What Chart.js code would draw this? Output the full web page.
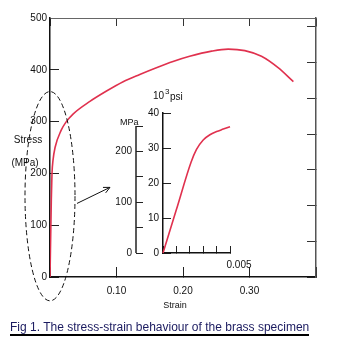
<!DOCTYPE html>
<html>
<head>
<meta charset="utf-8">
<script src="https://cdn.jsdelivr.net/npm/chart.js@4.4.0/dist/chart.umd.min.js"></script>
<style>
  html, body { margin: 0; padding: 0; background: #fff; }
  #wrap { position: relative; width: 360px; height: 341px; overflow: hidden; }
  #wrap canvas { position: absolute; left: 0; top: 0; }
  #caption {
    position: absolute; left: 10px; top: 320px;
    font: 12px "Liberation Sans", Arial, sans-serif; line-height: 14px;
    color: #1b1b60; border-bottom: 2px solid #000; white-space: nowrap;
  }
</style>
</head>
<body>
<div id="wrap">
  <canvas id="mainChart" width="360" height="341"></canvas>
  <canvas id="insetChart" width="360" height="341"></canvas>
  <div id="caption">Fig 1. The stress-strain behaviour of the brass specimen</div>
</div>
<script>
// full curve (strain, MPa)
const mainStrain = [0, 0.002, 0.003, 0.0045, 0.0076, 0.0167, 0.024, 0.035, 0.060, 0.085, 0.110, 0.135, 0.160, 0.185, 0.210, 0.243, 0.268, 0.293, 0.318, 0.343, 0.366];
const mainStress = [0, 150, 200, 225, 250, 283, 299, 315, 339, 359, 377, 391, 404, 416, 426, 436, 440, 437, 426, 404, 377];

// initial part, inset (strain, 10^3 psi)
const insetStrain = [0, 0.001, 0.0021, 0.0025, 0.003, 0.0035, 0.004, 0.0045, 0.005, 0.0056];
const insetKsi = [0, 12.4, 26, 29.6, 32.3, 33.8, 34.7, 35.4, 36.1, 36.9];

// ticks
const strainTicks = [0, 0.10, 0.20, 0.30, 0.40];
const strainLabels = ['', '0.10', '0.20', '0.30', ''];
const stressTicks = [0, 100, 200, 300, 400, 500];
const stressLabels = ['0', '100', '200', '300', '400', '500'];
const ksiTicksMain = [0, 10, 20, 30, 40, 50, 60, 70];
const insetStrainTicks = [0, 0.001, 0.002, 0.003, 0.004, 0.005];
const insetStrainLabels = ['', '', '', '', '', '0.005'];
const insetKsiTicks = [0, 10, 20, 30, 40];
const insetMpaTicks = [0, 50, 100, 150, 200, 250];
const insetMpaLabels = ['0', '', '100', '', '200', ''];

const MPA_PER_KSI = 6.894757;
const RED = '#e0314e';
const FONT = '"Liberation Sans", Arial, sans-serif';

Chart.defaults.font.family = FONT;
Chart.defaults.font.size = 10;
Chart.defaults.color = '#111';

function setTicks(values) {
    return function (scale) { scale.ticks = values.map(v => ({ value: v })); };
}
function pairs(xs, ys) {
    return xs.map((x, i) => ({ x: x, y: ys[i] }));
}

// dashed ellipse + arrow, in data units of the main chart
const ring = { x: 0, y: 156, rx: 0.0376, ry: 202 };
const arrow = { x1: 0.0406, y1: 142, x2: 0.0902, y2: 173 };

const mainExtras = {
    id: 'mainExtras',
    afterDraw(chart) {
        const ctx = chart.ctx;
        const xs = chart.scales.x, ys = chart.scales.y;
        ctx.save();
        ctx.fillStyle = '#111';
        ctx.font = '10px ' + FONT;
        ctx.textAlign = 'center';
        ctx.textBaseline = 'middle';
        ctx.fillText('Stress', 28, 140);
        ctx.fillText('(MPa)', 25, 163);
        ctx.font = '9px ' + FONT;
        ctx.fillText('Strain', 175, 306);

        // ellipse
        const cx = xs.getPixelForValue(ring.x), cy = ys.getPixelForValue(ring.y);
        const rx = xs.getPixelForValue(ring.rx) - xs.getPixelForValue(0);
        const ry = ys.getPixelForValue(0) - ys.getPixelForValue(ring.ry);
        ctx.strokeStyle = '#111';
        ctx.lineWidth = 1;
        ctx.setLineDash([5, 3]);
        ctx.beginPath();
        ctx.ellipse(cx, cy, rx, ry, 0, 0, Math.PI * 2);
        ctx.stroke();
        ctx.setLineDash([]);

        // arrow
        const ax1 = xs.getPixelForValue(arrow.x1), ay1 = ys.getPixelForValue(arrow.y1);
        const ax2 = xs.getPixelForValue(arrow.x2), ay2 = ys.getPixelForValue(arrow.y2);
        const ang = Math.atan2(ay2 - ay1, ax2 - ax1);
        ctx.beginPath();
        ctx.moveTo(ax1, ay1);
        ctx.lineTo(ax2, ay2);
        ctx.moveTo(ax2 - 7 * Math.cos(ang - 0.45), ay2 - 7 * Math.sin(ang - 0.45));
        ctx.lineTo(ax2, ay2);
        ctx.lineTo(ax2 - 7 * Math.cos(ang + 0.45), ay2 - 7 * Math.sin(ang + 0.45));
        ctx.stroke();
        ctx.restore();
    }
};

new Chart(document.getElementById('mainChart'), {
    type: 'line',
    data: {
        datasets: [{
            data: pairs(mainStrain, mainStress),
            borderColor: RED,
            borderWidth: 1.6,
            pointRadius: 0,
            cubicInterpolationMode: 'monotone',
            fill: false
        }]
    },
    options: {
        responsive: false,
        animation: false,
        events: [],
        layout: { padding: { left: 0, right: 0, top: 17, bottom: 0 } },
        plugins: { legend: { display: false }, tooltip: { enabled: false } },
        scales: {
            x: {
                type: 'linear', position: 'bottom', min: 0, max: 0.4,
                afterBuildTicks: setTicks(strainTicks),
                afterFit: s => { s.height = 64; },
                ticks: { autoSkip: false, maxRotation: 0, padding: 18, callback: (v, i) => strainLabels[i] },
                grid: { drawOnChartArea: false, tickLength: -10, color: '#222', lineWidth: 1 },
                border: { color: '#111', width: 1.5 }
            },
            xTop: {
                type: 'linear', position: 'top', min: 0, max: 0.4,
                afterBuildTicks: setTicks(strainTicks),
                afterFit: s => { s.height = 0; },
                ticks: { autoSkip: false, callback: () => '' },
                grid: { drawOnChartArea: false, tickLength: -8, color: '#333' },
                border: { color: '#666', width: 1 }
            },
            y: {
                type: 'linear', position: 'left', min: 0, max: 500,
                afterBuildTicks: setTicks(stressTicks),
                afterFit: s => { s.width = 50; },
                ticks: { autoSkip: false, padding: 12, callback: (v, i) => stressLabels[i] },
                grid: { drawOnChartArea: false, tickLength: -9, color: '#222' },
                border: { color: '#111', width: 1.5 }
            },
            yKsi: {
                type: 'linear', position: 'right', min: 0, max: 500 / MPA_PER_KSI,
                afterBuildTicks: setTicks(ksiTicksMain),
                afterFit: s => { s.width = 44; },
                ticks: { autoSkip: false, callback: () => '' },
                grid: { drawOnChartArea: false, tickLength: -9, color: '#333' },
                border: { color: '#555', width: 1.5 }
            }
        }
    },
    plugins: [mainExtras]
});

const insetExtras = {
    id: 'insetExtras',
    afterDraw(chart) {
        const ctx = chart.ctx;
        const m = chart.scales.yM;
        ctx.save();
        // MPa axis line, 0..250
        ctx.strokeStyle = '#222';
        ctx.lineWidth = 1.5;
        ctx.beginPath();
        ctx.moveTo(m.right, m.getPixelForValue(0));
        ctx.lineTo(m.right, m.getPixelForValue(250));
        ctx.stroke();

        ctx.fillStyle = '#111';
        ctx.textBaseline = 'alphabetic';
        ctx.textAlign = 'left';
        ctx.font = '10px ' + FONT;
        ctx.fillText('10', 153, 99);
        ctx.font = '8px ' + FONT;
        ctx.fillText('3', 165, 94);
        ctx.font = '10px ' + FONT;
        ctx.fillText('psi', 170, 100);
        ctx.font = '9px ' + FONT;
        ctx.fillText('MPa', 120, 125);
        ctx.restore();
    }
};

new Chart(document.getElementById('insetChart'), {
    type: 'line',
    data: {
        datasets: [{
            data: pairs(insetStrain, insetKsi),
            yAxisID: 'yK',
            borderColor: RED,
            borderWidth: 1.6,
            pointRadius: 0,
            cubicInterpolationMode: 'monotone',
            clip: false,
            fill: false
        }]
    },
    options: {
        responsive: false,
        animation: false,
        events: [],
        layout: { padding: { left: 100, right: 130, top: 113, bottom: 0 } },
        plugins: { legend: { display: false }, tooltip: { enabled: false } },
        scales: {
            x: {
                type: 'linear', position: 'bottom', min: 0, max: 0.005,
                afterBuildTicks: setTicks(insetStrainTicks),
                afterFit: s => { s.height = 88; },
                ticks: { autoSkip: false, maxRotation: 0, padding: 13, labelOffset: 9, callback: (v, i) => insetStrainLabels[i] },
                grid: { drawOnChartArea: false, tickLength: -7, color: '#222' },
                border: { color: '#111', width: 1.5 }
            },
            yK: {
                type: 'linear', position: 'left', weight: 0, min: 0, max: 40,
                afterBuildTicks: setTicks(insetKsiTicks),
                afterFit: s => { s.width = 27; },
                ticks: { autoSkip: false, padding: 12 },
                grid: { drawOnChartArea: false, tickLength: -8, color: '#222' },
                border: { color: '#111', width: 1.5 }
            },
            yM: {
                type: 'linear', position: 'left', weight: 10, min: 0, max: 40 * MPA_PER_KSI,
                afterBuildTicks: setTicks(insetMpaTicks),
                afterFit: s => { s.width = 36; },
                ticks: { autoSkip: false, padding: 11, callback: (v, i) => insetMpaLabels[i] },
                grid: { drawOnChartArea: false, tickLength: -7, color: '#222' },
                border: { display: false }
            }
        }
    },
    plugins: [insetExtras]
});
</script>
</body>
</html>
